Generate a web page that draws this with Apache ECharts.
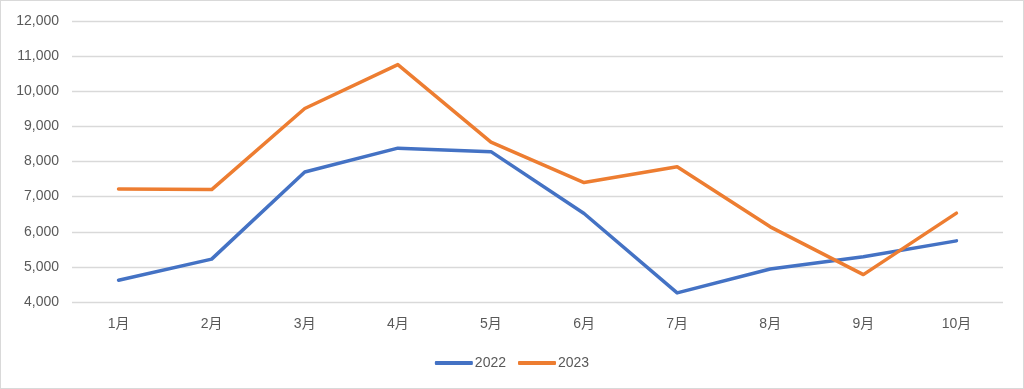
<!DOCTYPE html>
<html><head><meta charset="utf-8">
<script src="https://cdn.jsdelivr.net/npm/echarts@6/dist/echarts.min.js"></script>
<style>html,body{margin:0;padding:0;background:#fff}#c{width:1024px;height:389px;box-sizing:border-box;border:1px solid #d9d9d9}</style>
</head><body><div id="c"></div>
<script>
const categories = ['1月','2月','3月','4月','5月','6月','7月','8月','9月','10月'];
const s2022 = [4620, 5220, 7700, 8380, 8280, 6520, 4260, 4940, 5290, 5740];
const s2023 = [7220, 7200, 9510, 10760, 8550, 7400, 7850, 6140, 4780, 6530];
const seriesNames = ['2022', '2023'];
const yTicks = {min: 4000, max: 12000, interval: 1000};

const font = '"Liberation Sans","Noto Sans CJK JP",sans-serif';
const chart = echarts.init(document.getElementById('c'));
chart.setOption({
  animation: false,
  grid: {left: 71, right: 20, top: 20, bottom: 86, containLabel: false},
  legend: {
    bottom: 13, left: 'center', itemWidth: 38, itemHeight: 4, itemGap: 12,
    icon: 'roundRect',
    textStyle: {color: '#595959', fontSize: 14, fontFamily: font, padding: [0,0,0,-3]},
    data: seriesNames
  },
  xAxis: {
    type: 'category', data: categories, boundaryGap: true,
    axisLine: {show: false}, axisTick: {show: false},
    axisLabel: {color: '#595959', fontSize: 14, fontFamily: font, margin: 15}
  },
  yAxis: {
    type: 'value', min: yTicks.min, max: yTicks.max, interval: yTicks.interval,
    axisLine: {show: false}, axisTick: {show: false},
    axisLabel: {color: '#595959', fontSize: 14, fontFamily: font, margin: 13,
      formatter: v => v.toLocaleString('en-US')},
    splitLine: {lineStyle: {color: '#d9d9d9', width: 1.3}}
  },
  series: [
    {name: seriesNames[0], type: 'line', data: s2022, symbol: 'none',
     lineStyle: {color: '#4472C4', width: 3.5, cap: 'round', join: 'round'}, itemStyle: {color: '#4472C4'}},
    {name: seriesNames[1], type: 'line', data: s2023, symbol: 'none',
     lineStyle: {color: '#ED7D31', width: 3.5, cap: 'round', join: 'round'}, itemStyle: {color: '#ED7D31'}}
  ]
});
</script></body></html>
